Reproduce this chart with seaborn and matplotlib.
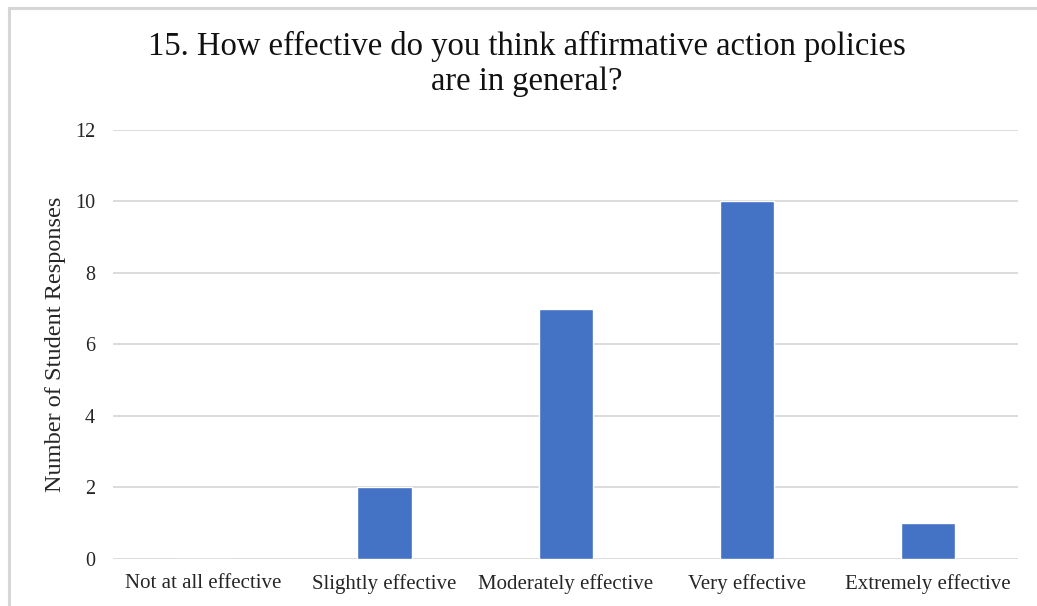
import matplotlib
matplotlib.use("Agg")
import matplotlib.pyplot as plt
import seaborn as sns
import pandas as pd
from matplotlib.patches import Rectangle

categories = ["Not at all effective", "Slightly effective", "Moderately effective",
              "Very effective", "Extremely effective"]
responses = [0, 2, 7, 10, 1]
y_ticks = [0, 2, 4, 6, 8, 10, 12]

title = "15. How effective do you think affirmative action policies\nare in general?"
y_label = "Number of Student Responses"

sns.set_theme(style="white")
plt.rcParams["font.family"] = ["Liberation Serif", "DejaVu Serif"]

df = pd.DataFrame({"category": categories, "responses": responses})

fig = plt.figure(figsize=(10.37, 6.06), dpi=100)
ax = fig.add_axes([0.109, 0.0776, 0.873, 0.708])

sns.barplot(data=df, x="category", y="responses", order=categories,
            color="#4472C4", saturation=1, width=0.30, ax=ax, zorder=3)

ax.set_ylim(0, 12)
ax.set_yticks(y_ticks)
ax.set_yticklabels([str(t) for t in y_ticks], fontsize=14.5, color="#262626")
ax.tick_params(axis="x", labelsize=15, colors="#262626", length=0, pad=11)
ax.tick_params(axis="y", length=0, pad=13)
ax.set_xlim(-0.5, len(categories) - 0.5)

ax.yaxis.grid(True, color="#d9d9d9", linewidth=1.3, zorder=0)
ax.set_axisbelow(True)
for s in ax.spines.values():
    s.set_visible(False)

ax.set_xlabel("")
ax.set_ylabel(y_label, fontsize=17.5, color="#262626", labelpad=6)

fig.text(0.508, 0.895, title, ha="center", va="center", fontsize=23.5,
         color="#111111", linespacing=1.2)

# thin frame around the chart area
fig.patches.append(Rectangle((9 / 1037, -0.1), 1.2, 1.1 - 8 / 606,
                             transform=fig.transFigure, fill=False,
                             edgecolor="#d6d6d6", linewidth=2.2))

fig.savefig("out.png", dpi=100)
